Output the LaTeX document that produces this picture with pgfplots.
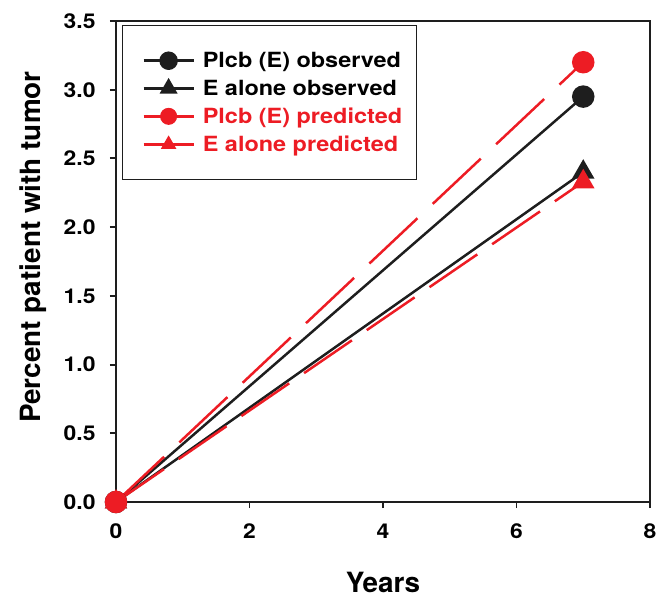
\documentclass[border=0pt]{standalone}
\usepackage{pgfplots}
\pgfplotsset{compat=1.18}
\usepackage{fontspec}
\setmainfont{TeX Gyre Heros}
\newfontfamily\wfont[FakeStretch=1.12]{TeX Gyre Heros}
\definecolor{pred}{RGB}{237,28,36}
\definecolor{obs}{RGB}{30,30,30}
\begin{document}
\begin{tikzpicture}[x=1bp,y=1bp]
\useasboundingbox (-116bp,-96bp) rectangle (550bp,502bp);
\begin{axis}[
  at={(0,0)}, anchor=south west,
  scale only axis,
  width=534bp, height=481bp,
  xmin=0, xmax=8, ymin=0, ymax=3.5,
  xtick={0,2,4,6,8},
  ytick={0,0.5,1,1.5,2,2.5,3,3.5},
  yticklabel style={xshift=-11bp, /pgf/number format/.cd,fixed,fixed zerofill,precision=1},
  /pgf/number format/assume math mode=true,
  tick label style={font=\wfont\fontsize{20.5}{24}\selectfont\bfseries, black},
  xticklabel style={yshift=-12bp},
  xtick pos=left, ytick pos=left,
  tick align=outside,
  major tick length=6bp,
  axis line style={line width=2pt, obs},
  tick style={line width=2pt, obs},
  xlabel={Years},
  ylabel={Percent patient with tumor},
  every axis x label/.style={at={(axis description cs:0.5,-0.168)}, anchor=center, font=\fontsize{28}{32}\selectfont\bfseries},
  every axis y label/.style={at={(axis description cs:-0.155,0.53)}, anchor=center, rotate=90, font=\fontsize{28}{32}\selectfont\bfseries},
  clip=false,
  legend style={at={(0.011,0.992)}, anchor=north west, draw=obs, line width=1pt,
    font=\wfont\fontsize{21}{24}\selectfont\bfseries, row sep=7bp, column sep=4bp,
    inner xsep=12bp, inner ysep=25bp},
  legend cell align=left,
  legend image code/.code={
    \path (0bp,0bp) (60bp,0bp);
    \draw[#1, line width=3pt] (8bp,0bp) -- (58bp,0bp);
    \path[#1, mark size=8bp] plot coordinates {(33bp,0bp)};
  },
]
\addplot[obs, line width=2.5pt, mark=*, mark size=10bp, mark options={solid}] coordinates {(0,0) (7,2.95)};
\addlegendentry{Plcb (E) observed}
\addplot[obs, line width=2.5pt, mark=triangle*, mark size=10.5bp, mark options={solid}] coordinates {(0,0) (7,2.40)};
\addlegendentry{E alone observed}
\addplot[pred, line width=2.5pt, dash pattern=on 66bp off 21bp, mark=*, mark size=10bp, mark options={solid}, forget plot] coordinates {(0,0) (7,3.20)};
\addplot[pred, line width=2.5pt, dash pattern=on 58bp off 18bp, mark=triangle*, mark size=10.5bp, mark options={solid}, forget plot] coordinates {(0,0) (7,2.33)};
\addplot[pred, mark=*, mark size=10bp, only marks, forget plot] coordinates {(0,0)};
\addlegendimage{pred, mark=*}
\addlegendentry{\textcolor{pred}{Plcb (E) predicted}}
\addlegendimage{pred, mark=triangle*}
\addlegendentry{\textcolor{pred}{E alone predicted}}
\end{axis}
\end{tikzpicture}
\end{document}
